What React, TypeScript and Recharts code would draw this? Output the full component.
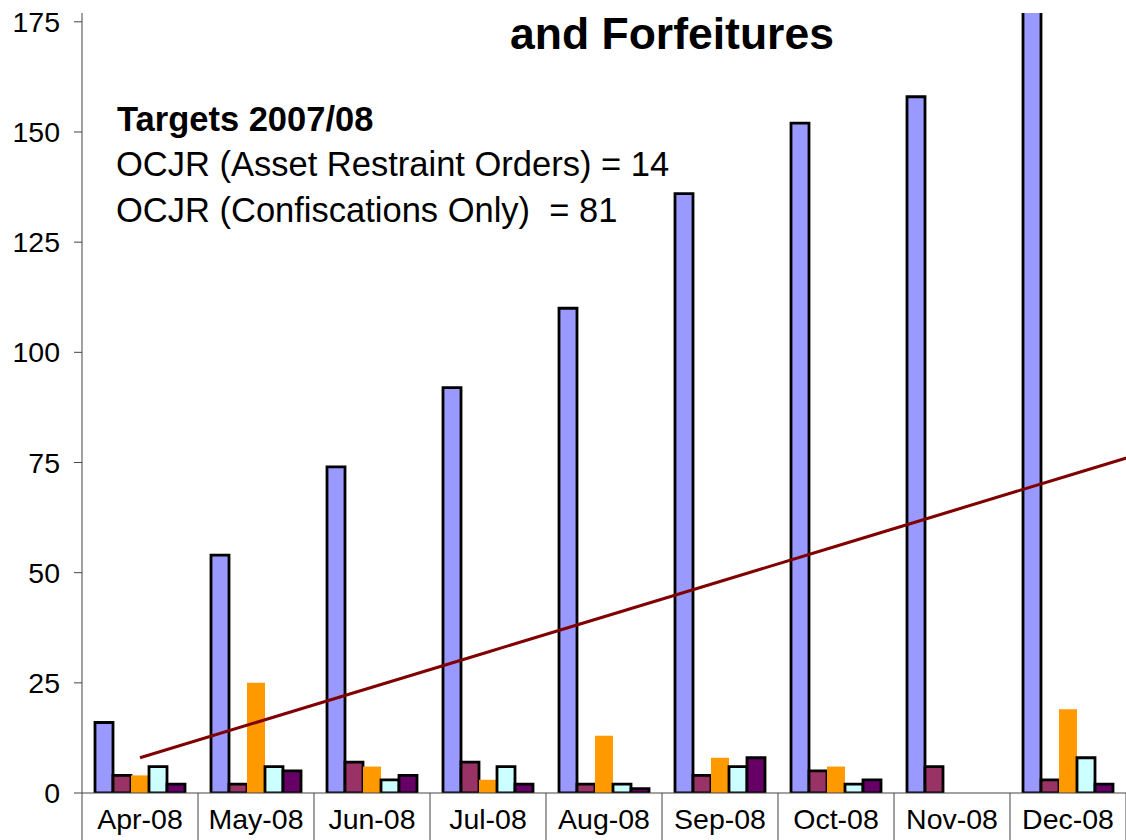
import { Bar, ComposedChart, Line, XAxis, YAxis } from "recharts";

const months = ["Apr-08", "May-08", "Jun-08", "Jul-08", "Aug-08", "Sep-08", "Oct-08", "Nov-08", "Dec-08", "Jan-09"];
const cumulative = [16, 54, 74, 92, 110, 136, 152, 158, 180, null];
const seriesB = [4, 2, 7, 7, 2, 4, 5, 6, 3, null];
const seriesC = [4, 25, 6, 3, 13, 8, 6, null, 19, null];
const seriesD = [6, 6, 3, 6, 2, 6, 2, null, 8, null];
const seriesE = [2, 5, 4, 2, 1, 8, 3, null, 2, null];
const target = [8, 16, 24, 32, 40, 48, 56, 64, 72, 80];
const yTicks = [0, 25, 50, 75, 100, 125, 150, 175];

const data = months.map((month, i) => ({
  month,
  cumulative: cumulative[i],
  seriesB: seriesB[i],
  seriesC: seriesC[i],
  seriesD: seriesD[i],
  seriesE: seriesE[i],
  target: target[i],
}));

const AXIS = "#444";

// category label with a divider on its left edge, like the old data-table look
function MonthTick(props: any) {
  const { x, y, payload, index } = props;
  const off = payload?.offset ?? 58;
  // the last month only carries the target line into the frame; its label sits off-canvas
  const showLabel = index !== months.length - 1;
  return (
    <g>
      <line x1={x - off} x2={x - off} y1={y} y2={y + 50} stroke={AXIS} strokeWidth={1} />
      {showLabel && (
        <text x={x} y={y + 36} textAnchor="middle" fontSize={28.5} fill="#000">
          {payload.value}
        </text>
      )}
    </g>
  );
}

export default function App() {
  return (
    <div
      style={{
        position: "absolute",
        top: 0,
        left: 0,
        width: 1126,
        height: 840,
        overflow: "hidden",
        background: "#fff",
        fontFamily: '"Liberation Sans", Arial, sans-serif',
      }}
    >
      <ComposedChart
        width={1242}
        height={840}
        data={data}
        margin={{ top: 13, right: 0, bottom: 0, left: 0 }}
        barCategoryGap={13}
        barGap={0}
      >
        <XAxis
          dataKey="month"
          interval={0}
          height={47}
          tickLine={false}
          tickSize={0}
          tickMargin={0}
          axisLine={{ stroke: AXIS }}
          tick={MonthTick}
        />
        <YAxis
          width={82}
          domain={[0, 177]}
          ticks={yTicks}
          allowDataOverflow
          tickSize={8}
          tickMargin={14}
          axisLine={{ stroke: AXIS }}
          tickLine={{ stroke: AXIS }}
          tick={{ fontSize: 28.5, fill: "#000" }}
        />
        <Bar dataKey="cumulative" fill="#9999FF" stroke="#000" strokeWidth={2.8} isAnimationActive={false} />
        <Bar dataKey="seriesB" fill="#993366" stroke="#000" strokeWidth={2.8} isAnimationActive={false} />
        <Bar dataKey="seriesC" fill="#FF9900" isAnimationActive={false} />
        <Bar dataKey="seriesD" fill="#CCFFFF" stroke="#000" strokeWidth={2.8} isAnimationActive={false} />
        <Bar dataKey="seriesE" fill="#660066" stroke="#000" strokeWidth={2.8} isAnimationActive={false} />
        <Line
          dataKey="target"
          stroke="#800000"
          strokeWidth={3}
          dot={false}
          activeDot={false}
          isAnimationActive={false}
        />
      </ComposedChart>

      <div
        style={{
          position: "absolute",
          left: 472,
          top: 12,
          width: 400,
          textAlign: "center",
          fontSize: 44.5,
          fontWeight: "bold",
          lineHeight: 1,
        }}
      >
        and Forfeitures
      </div>
      <div style={{ position: "absolute", left: 117, top: 102, fontSize: 34.5, fontWeight: "bold", lineHeight: 1 }}>
        Targets 2007/08
      </div>
      <div style={{ position: "absolute", left: 116, top: 147, fontSize: 34.5, lineHeight: 1, whiteSpace: "pre" }}>
        OCJR (Asset Restraint Orders) = 14
      </div>
      <div style={{ position: "absolute", left: 116, top: 193, fontSize: 34.5, lineHeight: 1, whiteSpace: "pre" }}>
        OCJR (Confiscations Only)  = 81
      </div>
    </div>
  );
}
